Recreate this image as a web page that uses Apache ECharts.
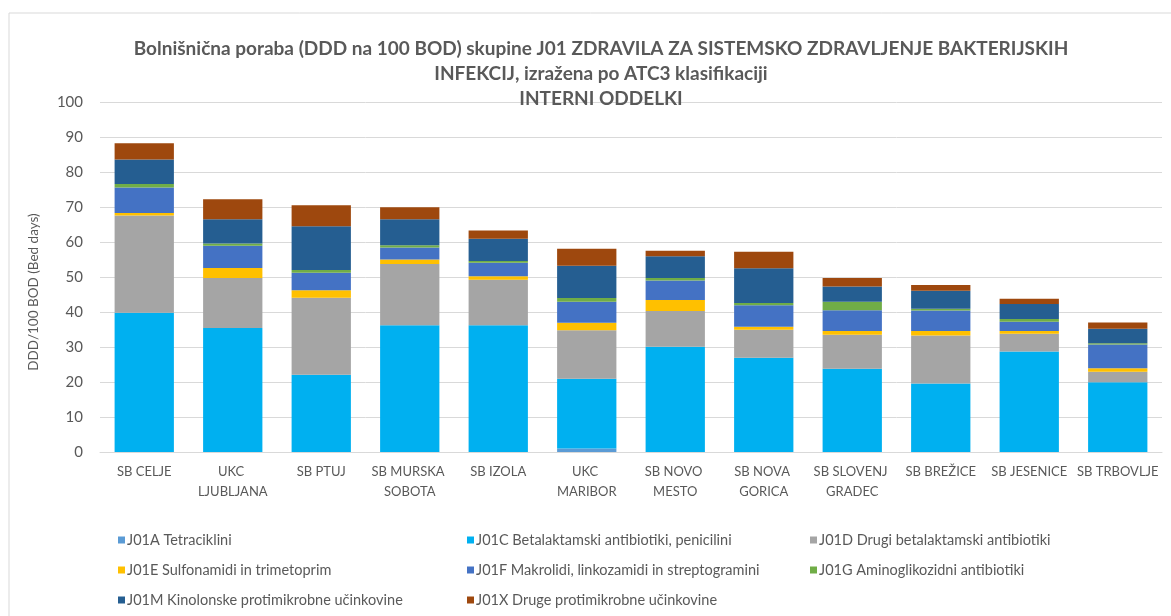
<!DOCTYPE html>
<html>
<head>
<meta charset="utf-8">
<script src="https://cdn.jsdelivr.net/npm/echarts@6/dist/echarts.min.js"></script>
<style>
  html, body { margin: 0; padding: 0; background: #fff; }
  #chart { width: 1171px; height: 616px; }
</style>
</head>
<body>
<div id="chart"></div>
<script>
// bolnišnice
const hospitals = ["SB CELJE", "UKC LJUBLJANA", "SB PTUJ", "SB MURSKA SOBOTA", "SB IZOLA", "UKC MARIBOR",
  "SB NOVO MESTO", "SB NOVA GORICA", "SB SLOVENJ GRADEC", "SB BREŽICE", "SB JESENICE", "SB TRBOVLJE"];

// DDD/100 BOD po ATC3 skupinah
const j01a = [0, 0, 0, 0, 0, 1.0, 0, 0, 0, 0, 0, 0];
const j01c = [39.8, 35.4, 22.1, 36.2, 36.2, 19.9, 30.1, 26.9, 23.8, 19.6, 28.7, 19.9];
const j01d = [27.8, 14.3, 22.0, 17.5, 13.0, 13.9, 10.2, 8.0, 9.7, 13.7, 5.1, 3.0];
const j01e = [0.7, 2.9, 2.1, 1.3, 1.0, 2.1, 3.1, 0.9, 1.1, 1.3, 0.8, 1.0];
const j01f = [7.3, 6.3, 5.0, 3.4, 3.9, 6.0, 5.6, 6.1, 5.9, 5.8, 2.6, 6.8];
const j01g = [1.0, 0.7, 0.8, 0.7, 0.5, 1.1, 0.7, 0.7, 2.4, 0.5, 0.8, 0.4];
const j01m = [7.0, 6.9, 12.5, 7.4, 6.3, 9.2, 6.2, 9.9, 4.4, 5.2, 4.3, 4.1];
const j01x = [4.6, 5.7, 6.0, 3.4, 2.4, 4.9, 1.6, 4.7, 2.4, 1.6, 1.5, 1.8];

const seriesNames = [
  "J01A Tetraciklini",
  "J01C Betalaktamski antibiotiki, penicilini",
  "J01D Drugi betalaktamski antibiotiki",
  "J01E Sulfonamidi in trimetoprim",
  "J01F Makrolidi, linkozamidi in streptogramini",
  "J01G Aminoglikozidni antibiotiki",
  "J01M Kinolonske protimikrobne učinkovine",
  "J01X Druge protimikrobne učinkovine"
];
const seriesData = [j01a, j01c, j01d, j01e, j01f, j01g, j01m, j01x];
const colors = ["#5B9BD5", "#00B0F0", "#A5A5A5", "#FFC000", "#4472C4", "#70AD47", "#255E91", "#9E480E"];

const font = "Lato, 'Open Sans', sans-serif";
const grey = "#595959";

let myChart = echarts.init(document.getElementById("chart"));

const legendStyle = {
  orient: "vertical",
  top: 527,
  itemWidth: 7,
  itemHeight: 7,
  itemGap: 14,
  icon: "rect",
  textStyle: { color: grey, fontSize: 14.5, fontFamily: font, lineHeight: 16, padding: [0, 0, 0, -3] }
};

myChart.setOption({
  animation: false,
  color: colors,
  title: {
    text: "Bolnišnična poraba (DDD na 100 BOD) skupine J01 ZDRAVILA ZA SISTEMSKO ZDRAVLJENJE BAKTERIJSKIH\nINFEKCIJ, izražena po ATC3 klasifikaciji\nINTERNI ODDELKI",
    left: 596,
    top: 31,
    textAlign: "center",
    textStyle: { color: grey, fontSize: 19, fontWeight: "bold", fontFamily: font, lineHeight: 25 }
  },
  graphic: [
    {
      // okvir grafikona
      type: "rect",
      shape: { x: 9, y: 13, width: 1200, height: 700 },
      style: { fill: "none", stroke: "#d9d9d9", lineWidth: 1 },
      silent: true
    },
    {
      type: "text",
      x: 34,
      y: 292,
      rotation: Math.PI / 2,
      style: {
        text: "DDD/100 BOD (Bed days)",
        fill: grey,
        font: "13.5px " + font,
        align: "center",
        verticalAlign: "middle"
      }
    }
  ],
  legend: [
    Object.assign({ left: 113, data: [seriesNames[0], seriesNames[3], seriesNames[6]] }, legendStyle),
    Object.assign({ left: 462, data: [seriesNames[1], seriesNames[4], seriesNames[7]] }, legendStyle),
    Object.assign({ left: 805, data: [seriesNames[2], seriesNames[5]] }, legendStyle)
  ],
  grid: { left: 100, right: 9, top: 102, bottom: 164 },
  xAxis: {
    type: "category",
    data: hospitals,
    axisLine: { lineStyle: { color: "#d9d9d9", width: 1 } },
    axisTick: { show: false },
    axisLabel: {
      color: grey,
      fontSize: 13,
      fontFamily: font,
      margin: 10,
      lineHeight: 20,
      interval: 0,
      width: 86,
      overflow: "break"
    }
  },
  yAxis: {
    type: "value",
    min: 0,
    max: 100,
    interval: 10,
    axisLine: { show: false },
    axisTick: { show: false },
    axisLabel: { color: grey, fontSize: 15, fontFamily: font, margin: 17 },
    splitLine: { lineStyle: { color: "#d9d9d9", width: 1 } }
  },
  series: seriesNames.map((name, i) => ({
    name: name,
    type: "bar",
    stack: "total",
    barWidth: "67%",
    data: seriesData[i]
  }))
});
</script>
</body>
</html>
